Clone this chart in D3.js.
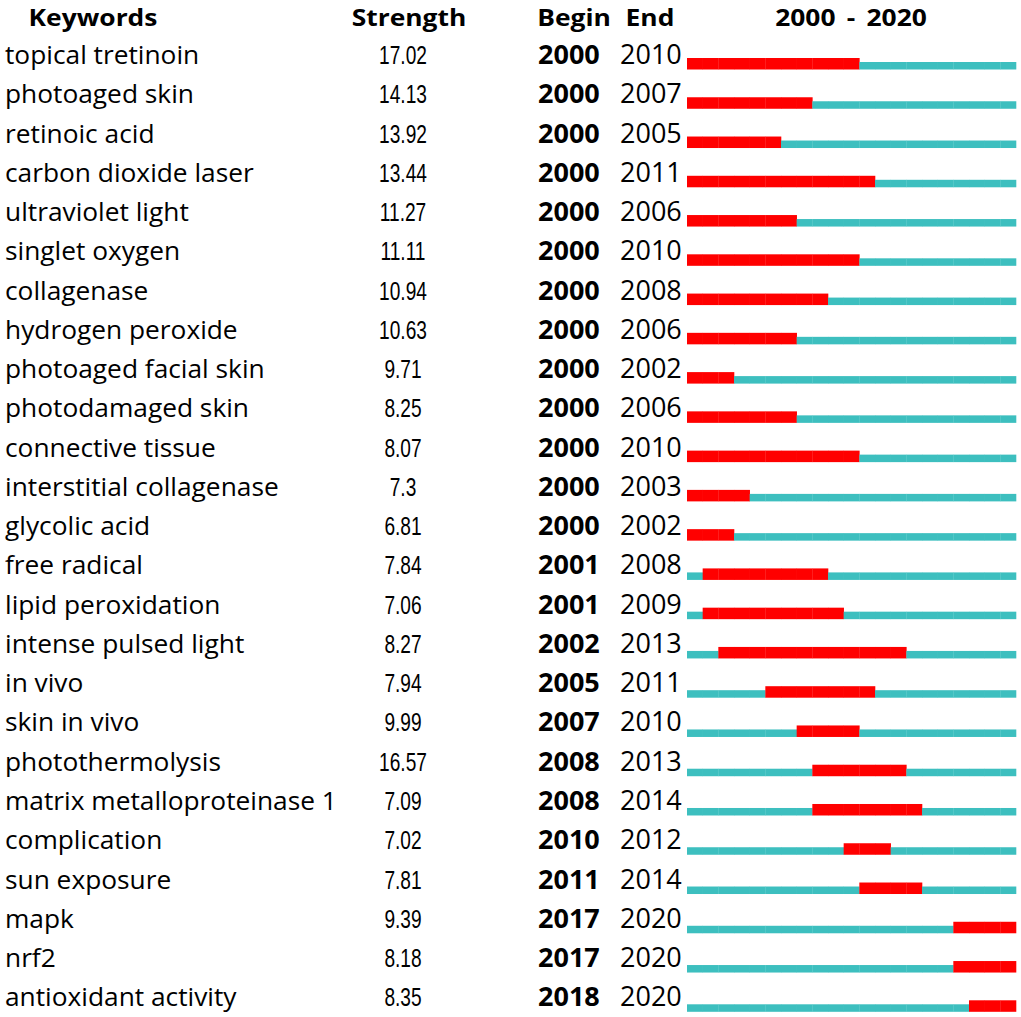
<!DOCTYPE html>
<html>
<head>
    <title>Top 25 Keywords with the Strongest Citation Bursts</title>
    <script src="https://d3js.org/d3.v7.min.js"></script>
    <style>
        body { margin: 0; background: #fff; }
        .head { font-family: "Open Sans", "Noto Sans", sans-serif; font-weight: bold; font-size: 24px; word-spacing: 4px; fill: #000; }
        .kw { font-family: "Open Sans", "Noto Sans", sans-serif; font-size: 26.3px; fill: #000; }
        .str { font-family: "Liberation Sans", Arial, sans-serif; font-size: 25.5px; fill: #000; }
        .yr { font-family: "Open Sans", "Noto Sans", sans-serif; font-size: 27px; fill: #000; }
        .yr.begin { font-weight: bold; }
    </style>
</head>
<body>
    <svg width="1021" height="1017"></svg>
    <script>
        var keywords = ["topical tretinoin", "photoaged skin", "retinoic acid", "carbon dioxide laser",
            "ultraviolet light", "singlet oxygen", "collagenase", "hydrogen peroxide",
            "photoaged facial skin", "photodamaged skin", "connective tissue", "interstitial collagenase",
            "glycolic acid", "free radical", "lipid peroxidation", "intense pulsed light", "in vivo",
            "skin in vivo", "photothermolysis", "matrix metalloproteinase 1", "complication",
            "sun exposure", "mapk", "nrf2", "antioxidant activity"];
        var strength = ["17.02", "14.13", "13.92", "13.44", "11.27", "11.11", "10.94", "10.63",
            "9.71", "8.25", "8.07", "7.3", "6.81", "7.84", "7.06", "8.27", "7.94", "9.99",
            "16.57", "7.09", "7.02", "7.81", "9.39", "8.18", "8.35"];
        var begin = [2000, 2000, 2000, 2000, 2000, 2000, 2000, 2000, 2000, 2000, 2000, 2000, 2000,
            2001, 2001, 2002, 2005, 2007, 2008, 2008, 2010, 2011, 2017, 2017, 2018];
        var end = [2010, 2007, 2005, 2011, 2006, 2010, 2008, 2006, 2002, 2006, 2010, 2003, 2002,
            2008, 2009, 2013, 2011, 2010, 2013, 2014, 2012, 2014, 2020, 2020, 2020];
        var headers = ["Keywords", "Strength", "Begin", "End", "2000 - 2020"];
        var firstYear = 2000, lastYear = 2020;

        var svg = d3.select("svg");

        var rows = keywords.map(function(k, i) {
            return {keyword: k, strength: strength[i], begin: begin[i], end: end[i], i: i};
        });
        var years = d3.range(firstYear, lastYear + 1);

        // baseline of each text row
        var y = d3.scaleLinear().domain([0, rows.length - 1]).range([64, 1006.3]);
        // year axis of the burst strip
        var x = d3.scaleLinear().domain([firstYear, lastYear + 1]).range([687, 1016]);

        // header (a touch wider than the face gives)
        var headX = [93, 409, 574, 650, 851];
        svg.selectAll("text.head")
            .data(headers)
            .enter().append("text")
            .attr("class", "head")
            .attr("transform", (d, i) => `translate(${headX[i]},26) scale(1.1,1)`)
            .attr("text-anchor", "middle")
            .text(d => d);

        var row = svg.selectAll("g.row")
            .data(rows)
            .enter().append("g")
            .attr("class", "row")
            .attr("transform", d => `translate(0,${y(d.i)})`);

        row.append("text").attr("class", "kw").attr("x", 5).text(d => d.keyword);
        // strength column uses a narrow face
        row.append("text").attr("class", "str")
            .attr("transform", "translate(403,0) scale(0.75,1)")
            .attr("text-anchor", "middle").text(d => d.strength);
        row.append("text").attr("class", "yr begin").attr("x", 538).text(d => d.begin);
        row.append("text").attr("class", "yr").attr("x", 620).text(d => d.end);

        // one cell per year: teal for quiet years, red for burst years
        row.selectAll("rect")
            .data(d => years.map(yr => ({yr: yr, burst: yr >= d.begin && yr <= d.end})))
            .enter().append("rect")
            .attr("x", d => x(d.yr))
            .attr("width", d => x(d.yr + 1) - x(d.yr) + 0.3)
            .attr("y", d => d.burst ? -6 : -2)
            .attr("height", d => d.burst ? 11.5 : 7.5)
            .attr("fill", d => d.burst ? "#ff0000" : "#3dbfbf");
    </script>
</body>
</html>
